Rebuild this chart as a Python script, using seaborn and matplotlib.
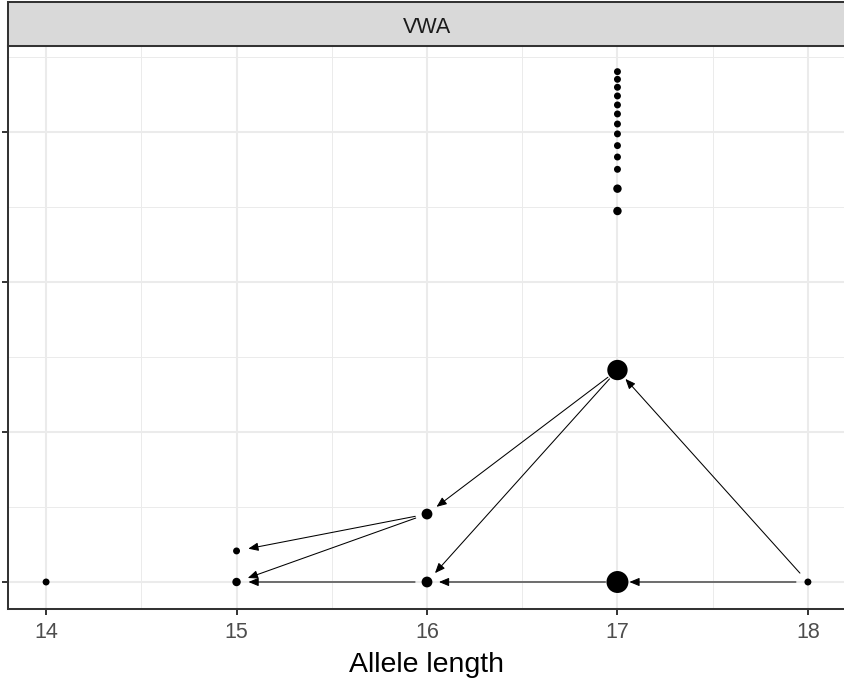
import matplotlib
matplotlib.use("Agg")
import matplotlib.pyplot as plt
import seaborn as sns
import pandas as pd

# nodes: allele length, height in the graph, count (mapped to point size)
node_id = ["a14", "a15", "b15", "a16", "b16", "a17", "b17", "a18",
           "c1", "c2", "c3", "c4", "c5", "c6", "c7", "c8", "c9", "c10", "c11", "c12", "c13"]
allele = [14, 15, 15, 16, 16, 17, 17, 18,
          17, 17, 17, 17, 17, 17, 17, 17, 17, 17, 17, 17, 17]
height = [0, 0, 0.207, 0, 0.453, 0, 1.413, 0,
          3.402, 3.351, 3.298, 3.24, 3.18, 3.12, 3.053, 2.987, 2.909, 2.833, 2.751, 2.622, 2.473]
count = [2, 3, 2, 5, 5, 21, 18, 2,
         2, 2, 2, 2, 2, 2, 2, 2, 2, 2, 2, 3, 3]

# mutation edges (from -> to)
edge_from = ["b16", "b16", "a16", "a17", "a18", "a18", "b17", "b17"]
edge_to = ["b15", "a15", "a15", "a16", "a17", "b17", "b16", "a16"]

x_ticks = [14, 15, 16, 17, 18]
y_ticks = [0, 1, 2, 3]
panel_title = "VWA"

nodes = pd.DataFrame({"id": node_id, "allele": allele, "height": height, "count": count})
pos = nodes.set_index("id")[["allele", "height"]]

sns.set_style("white")
plt.rcParams["font.family"] = ["Liberation Sans", "DejaVu Sans"]

fig = plt.figure(figsize=(8.45, 6.79), dpi=100)
ax = fig.add_axes([8 / 845, 70 / 679, 838 / 845, 563 / 679])

# arrows first, points on top
for s, t in zip(edge_from, edge_to):
    ax.annotate("", xy=(pos.loc[t, "allele"], pos.loc[t, "height"]),
                xytext=(pos.loc[s, "allele"], pos.loc[s, "height"]),
                arrowprops=dict(arrowstyle="-|>,head_length=0.6,head_width=0.25",
                                mutation_scale=10, color="black", lw=0.75,
                                shrinkA=8.6, shrinkB=8.6),
                zorder=2)

sns.scatterplot(data=nodes, x="allele", y="height", size="count",
                sizes=(25, 250), size_norm=(2, 21), color="black",
                linewidth=0, edgecolor="none", legend=False, ax=ax, zorder=3)

ax.set_xlim(13.8, 18.2)
ax.set_ylim(-0.18, 3.573)
ax.set_xticks(x_ticks)
ax.set_xticks([14.5, 15.5, 16.5, 17.5], minor=True)
ax.set_yticks(y_ticks)
ax.set_yticklabels([""] * len(y_ticks))
ax.set_yticks([0.5, 1.5, 2.5, 3.5], minor=True)
ax.grid(which="major", color="#EBEBEB", lw=1.45)
ax.grid(which="minor", color="#EBEBEB", lw=0.72)
ax.set_axisbelow(True)
ax.tick_params(axis="both", which="major", direction="out", length=4.2, width=1.4,
               color="#333333", labelsize=15.5, labelcolor="#4D4D4D", pad=5.5,
               left=True, bottom=True)
ax.tick_params(which="minor", length=0)
for sp in ax.spines.values():
    sp.set_color("#333333")
    sp.set_linewidth(1.45)

ax.set_xlabel("Allele length", fontsize=20.5, color="black", labelpad=6)
ax.set_ylabel("")

# facet strip
strip = fig.add_axes([8 / 845, (679 - 46) / 679, 838 / 845, 44 / 679])
strip.set_facecolor("#D9D9D9")
strip.set_xticks([])
strip.set_yticks([])
for sp in strip.spines.values():
    sp.set_color("#333333")
    sp.set_linewidth(1.45)
strip.text(0.5, 0.3, panel_title, ha="center", va="baseline", fontsize=15.5,
           color="#1A1A1A", transform=strip.transAxes)

fig.savefig("out.png", dpi=100)
